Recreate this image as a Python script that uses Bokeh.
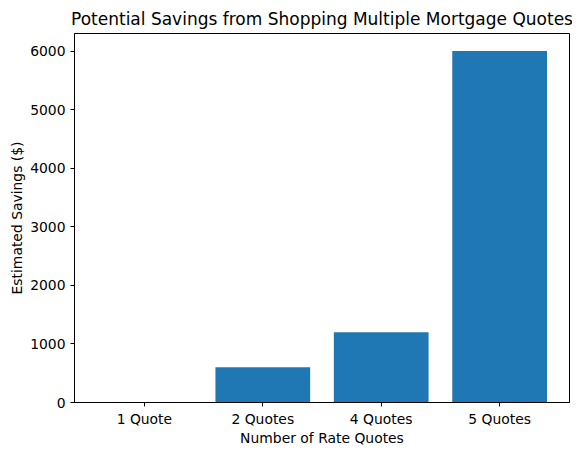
from bokeh.plotting import figure
from bokeh.models import FixedTicker, Range1d, ColumnDataSource
from bokeh.embed import file_html
from bokeh.resources import INLINE

categories = ["1 Quote", "2 Quotes", "4 Quotes", "5 Quotes"]
savings = [0, 600, 1200, 6000]
y_ticks = [0, 1000, 2000, 3000, 4000, 5000, 6000]

xs = list(range(len(categories)))
src = ColumnDataSource(dict(x=xs, top=savings))

p = figure(width=572, height=448, output_backend="svg", toolbar_location=None,
           x_range=Range1d(-0.59, 3.59), y_range=Range1d(0, 6300),
           min_border_left=74, min_border_right=3, min_border_bottom=40, min_border_top=33)
p.vbar(x="x", top="top", width=0.8, bottom=0, source=src, color="#1f77b4", line_color=None)

font = "DejaVu Sans"
p.title.text = "Potential Savings from Shopping Multiple Mortgage Quotes"
p.title.align = "center"
p.title.text_font = font
p.title.text_font_size = "17px"
p.title.text_font_style = "normal"
p.title.text_color = "black"

p.xaxis.ticker = FixedTicker(ticks=xs)
p.xaxis.major_label_overrides = {i: c for i, c in zip(xs, categories)}
p.yaxis.ticker = FixedTicker(ticks=y_ticks)
p.xaxis.axis_label = "Number of Rate Quotes"
p.yaxis.axis_label = "Estimated Savings ($)"

for ax in (p.xaxis[0], p.yaxis[0]):
    ax.axis_label_text_font = font
    ax.axis_label_text_font_size = "13.9px"
    ax.axis_label_text_font_style = "normal"
    ax.axis_label_text_color = "black"
    ax.major_label_text_font = font
    ax.major_label_text_font_size = "13.9px"
    ax.major_label_text_color = "black"
    ax.axis_line_color = "black"
    ax.major_tick_line_color = "black"
    ax.major_tick_out = 4
    ax.major_tick_in = 0
    ax.minor_tick_line_color = None

p.xaxis.major_label_standoff = 4
p.yaxis.major_label_standoff = 5
p.xaxis.axis_label_standoff = 0
p.yaxis.axis_label_standoff = 2
p.yaxis.major_label_orientation = 0
p.xgrid.grid_line_color = None
p.ygrid.grid_line_color = None
p.outline_line_color = "black"
p.outline_line_width = 1
p.background_fill_color = "white"
p.border_fill_color = "white"

open("out.html", "w").write(file_html(p, INLINE))
